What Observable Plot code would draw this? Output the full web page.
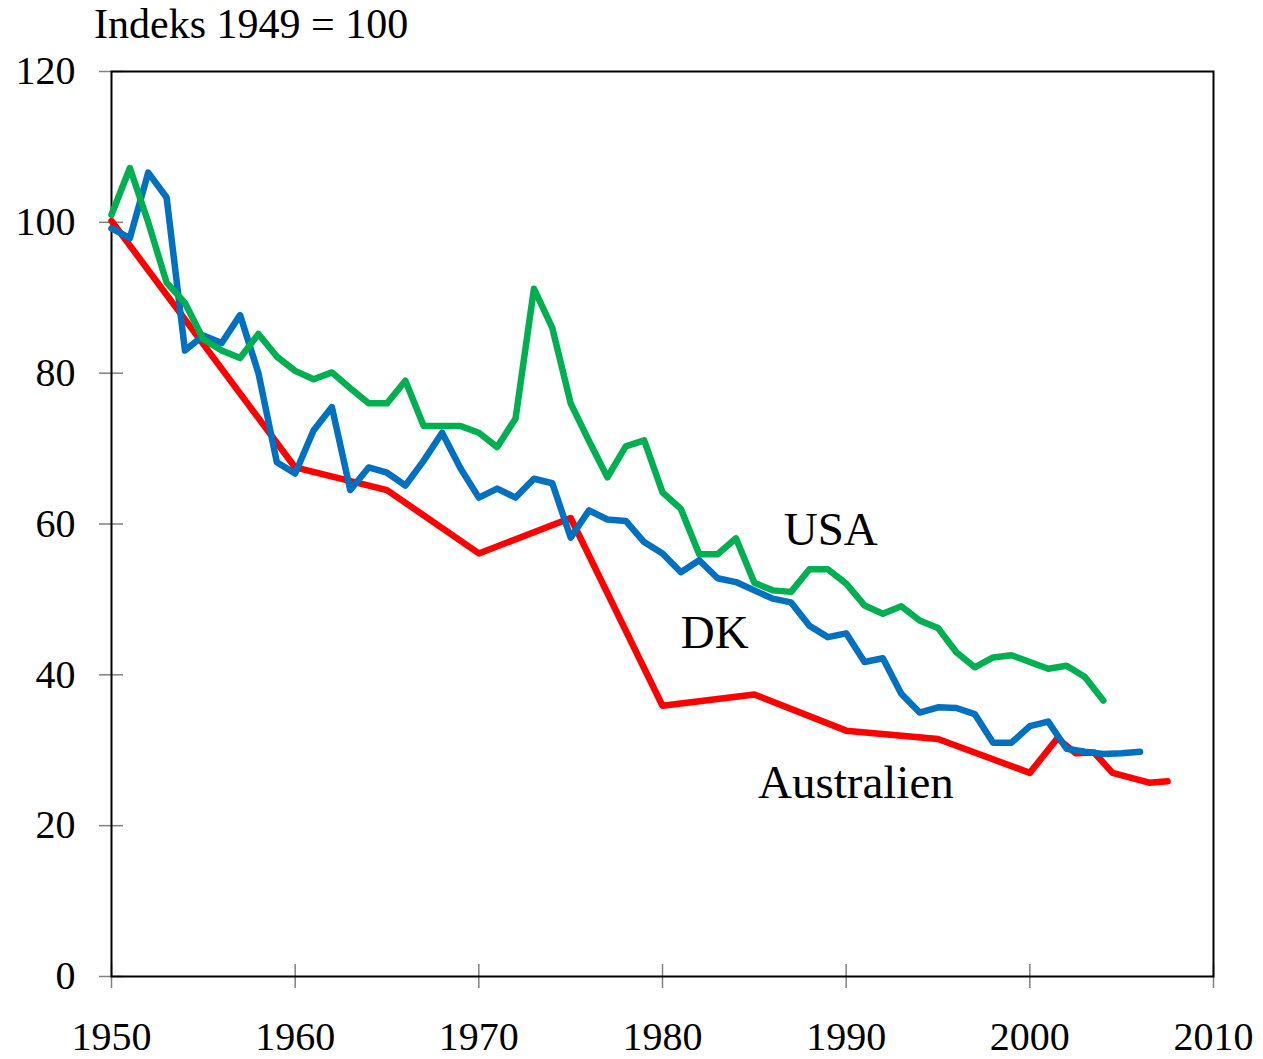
<!DOCTYPE html>
<html>
<head>
<meta charset="utf-8">
<script src="https://cdn.jsdelivr.net/npm/d3@7"></script>
<script src="https://cdn.jsdelivr.net/npm/@observablehq/plot@0.6"></script>
<style>
  html, body { margin: 0; padding: 0; background: #fff; }
  #wrap { width: 1263px; font-family: "Liberation Serif", "Times New Roman", serif; }
  #title { height: 42px; box-sizing: border-box; padding-top: 6px; padding-left: 94px; font-size: 42px; line-height: 36px; color: #000; white-space: nowrap; }
</style>
</head>
<body>
<div id="wrap">
  <div id="title">Indeks 1949 = 100</div>
  <div id="chart"></div>
</div>
<script>
// ---- Data ----
const dkStartYear = 1950;
const dkValues = [
  99.2, 97.9, 106.6, 103.3, 83, 85, 84, 87.7, 80, 68.2,
  66.7, 72.4, 75.5, 64.5, 67.5, 66.8, 65.1, 68.4, 72.1, 67.4,
  63.5, 64.7, 63.5, 66, 65.4, 58.2, 61.8, 60.6, 60.4, 57.6,
  56.1, 53.6, 55.2, 52.8, 52.3, 51.2, 50.1, 49.6, 46.5, 45,
  45.5, 41.7, 42.2, 37.5, 35, 35.7, 35.6, 34.8, 31, 31,
  33.2, 33.8, 30.2, 29.8, 29.5, 29.6, 29.8
];
const usaStartYear = 1950;
const usaValues = [
  101, 107.2, 100, 92, 89.3, 84.5, 83, 82, 85.2, 82.2,
  80.3, 79.2, 80.1, 78, 76, 76, 79, 73, 73, 73,
  72.1, 70.2, 74, 91.2, 86, 76, 71, 66.2, 70.3, 71.1,
  64.2, 62, 56, 56, 58.1, 52.2, 51.2, 51, 54, 54,
  52.1, 49.2, 48.1, 49.1, 47.2, 46.2, 43, 41, 42.3, 42.6,
  41.7, 40.8, 41.2, 39.7, 36.6
];
const ausYears = [1950, 1960, 1965, 1970, 1975, 1980, 1985, 1990, 1995, 2000, 2001.5, 2002.5, 2003.5, 2004.5, 2006.5, 2007.5];
const ausValues = [100.2, 67.5, 64.5, 56.1, 60.8, 35.9, 37.4, 32.6, 31.5, 27, 31.6, 29.6, 29.7, 27, 25.7, 25.9];

const xTicks = [1950, 1960, 1970, 1980, 1990, 2000, 2010];
const yTicks = [0, 20, 40, 60, 80, 100, 120];

const labelNames = ["USA", "DK", "Australien"];
const labelYears = [1986.6, 1981.0, 1985.2];
const labelValues = [59.2, 45.5, 25.7];

// ---- Tables built from the arrays ----
const dk = dkValues.map((v, i) => ({year: dkStartYear + i, value: v}));
const usa = usaValues.map((v, i) => ({year: usaStartYear + i, value: v}));
const aus = ausValues.map((v, i) => ({year: ausYears[i], value: v}));
const labels = labelNames.map((n, i) => ({name: n, year: labelYears[i], value: labelValues[i]}));

const tickColor = "#808080";

const chart = Plot.plot({
  width: 1263,
  height: 1017,
  marginTop: 29,
  marginBottom: 83,
  marginLeft: 111,
  marginRight: 50,
  style: {fontFamily: "'Liberation Serif', 'Times New Roman', serif", fontSize: "40px", color: "#000", background: "#fff"},
  x: {domain: [1950, 2010]},
  y: {domain: [0, 120]},
  marks: [
    // tick marks crossing the axes
    Plot.axisX({ticks: xTicks, tickSize: 24, dy: -12, fill: "none", stroke: tickColor, strokeWidth: 1.5, label: null}),
    Plot.axisY({ticks: yTicks, tickSize: 24, dx: 12, fill: "none", stroke: tickColor, strokeWidth: 1.5, label: null}),
    // tick labels
    Plot.axisX({ticks: xTicks, tickSize: 0, tickPadding: 45, tickFormat: d => String(d), label: null, fill: "#000"}),
    Plot.axisY({ticks: yTicks, tickSize: 0, tickPadding: 36, tickFormat: d => String(d), label: null, fill: "#000"}),
    Plot.frame({stroke: "#000", strokeWidth: 2}),
    Plot.line(aus, {x: "year", y: "value", stroke: "#FF0000", strokeWidth: 6.5, strokeLinejoin: "round", strokeLinecap: "round"}),
    Plot.line(dk, {x: "year", y: "value", stroke: "#0070C0", strokeWidth: 6.5, strokeLinejoin: "round", strokeLinecap: "round"}),
    Plot.line(usa, {x: "year", y: "value", stroke: "#00B050", strokeWidth: 6.5, strokeLinejoin: "round", strokeLinecap: "round"}),
    Plot.text(labels, {x: "year", y: "value", text: "name", textAnchor: "start", fontSize: 47, fill: "#000"})
  ]
});
document.getElementById("chart").appendChild(chart);
</script>
</body>
</html>
